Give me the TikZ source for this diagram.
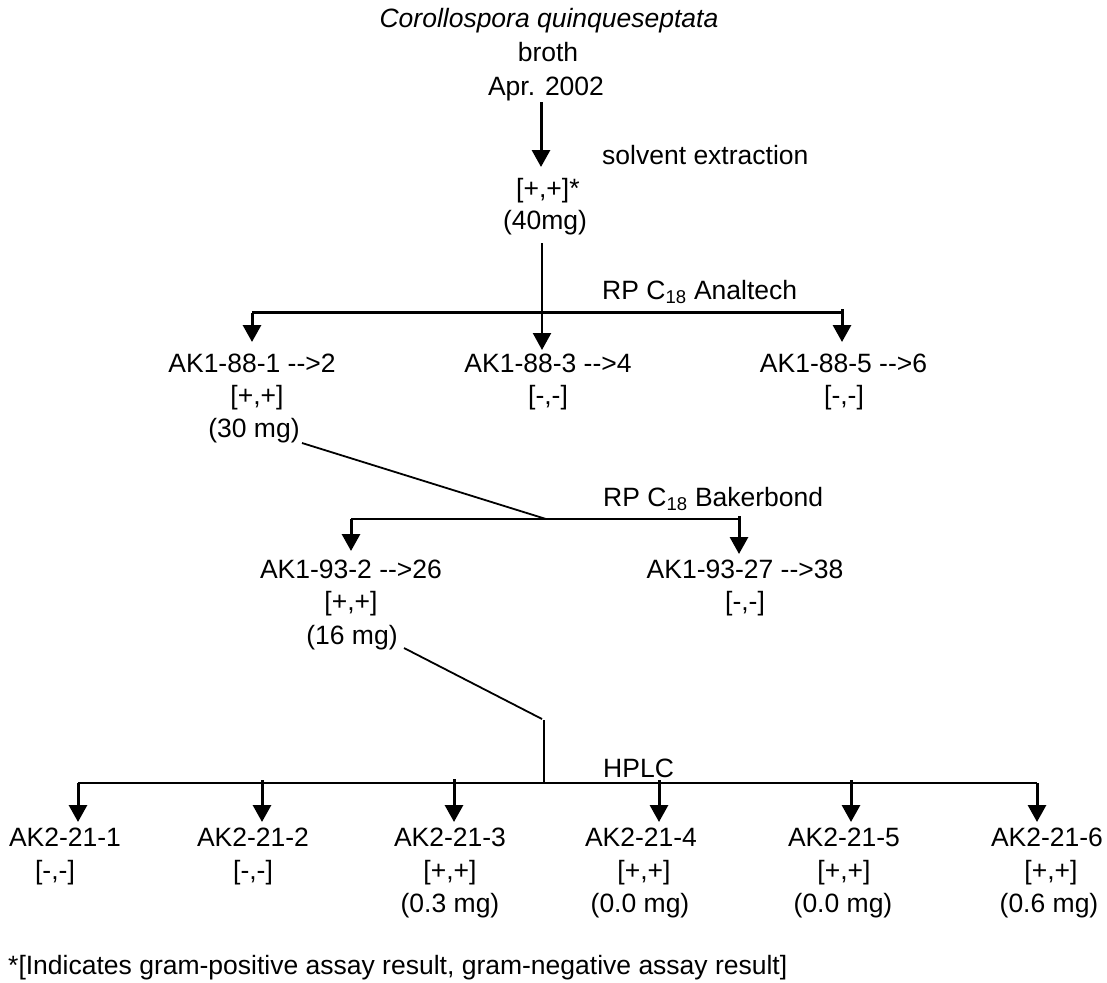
\documentclass[tikz,border=0pt]{standalone}
\usepackage{fontspec}
\setmainfont{Liberation Sans}
\usetikzlibrary{arrows.meta}
\begin{document}
\begin{tikzpicture}[x=1pt,y=-1pt,
  txt/.style={font=\fontsize{26.5}{33}\selectfont, inner sep=0pt, anchor=base},
  txtl/.style={txt, anchor=base west},
  ln/.style={line width=2.2pt},
  arr/.style={line width=3pt, -{Triangle[length=17pt,width=18pt]}},
  arrthin/.style={line width=2.3pt, -{Triangle[length=17pt,width=18pt]}},
  diag/.style={line width=1.8pt}]
\useasboundingbox (0,0) rectangle (1107,982);

% ---- top ----
\node[txt] (sp) at (549,28) {\itshape Corollospora quinqueseptata};
\node[txt] (broth) at (548,62) {broth};
\node[txt] (apr) at (546,95) {Apr. 2002};
\node[txtl] (solv) at (602,164) {solvent extraction};
\node[txtl] (ext) at (516,197) {[+,+]*};
\node[txt] (extmg) at (545,229) {(40mg)};

\coordinate (t0) at (541,102);
\coordinate (t1) at (541,167);
\draw[arr] (t0) -- (t1);

% ---- Analtech ----
\node[txtl] (rp1) at (602,299) {RP C\textsubscript{18} Analtech};
\coordinate (c0) at (542,243);
\coordinate (c1) at (542,350);
\coordinate (h1l) at (252,312.5);
\coordinate (h1r) at (842,312.5);
\coordinate (h1rt) at (842,309);
\coordinate (a1tip) at (252,342);
\coordinate (a3tip) at (842,342);
\draw[ln] (h1l) -- (h1r);
\draw[arrthin] (c0) -- (c1);
\draw[arr] (h1l) -- (a1tip);
\draw[arr] (h1rt) -- (a3tip);

\node[txt] (a1) at (252,372) {AK1-88-1 -{}->2};
\node[txt] (a1s) at (257,404) {[+,+]};
\node[txt] (a1m) at (254,437) {(30 mg)};
\node[txt] (a2) at (548,372) {AK1-88-3 -{}->4};
\node[txt] (a2s) at (548,404) {[-,-]};
\node[txt] (a3) at (843.5,372) {AK1-88-5 -{}->6};
\node[txt] (a3s) at (844,404) {[-,-]};

% ---- Bakerbond ----
\node[txtl] (rp2) at (603,506) {RP C\textsubscript{18} Bakerbond};
\coordinate (d1s) at (302,443);
\coordinate (d1e) at (546,519);
\draw[diag] (d1s) -- (d1e);
\coordinate (h2l) at (351,519);
\coordinate (h2r) at (739,519);
\coordinate (h2rt) at (739,516);
\coordinate (b1tip) at (351,551);
\coordinate (b2tip) at (739,554);
\draw[ln] (h2l) -- (h2r);
\draw[arr] (h2l) -- (b1tip);
\draw[arr] (h2rt) -- (b2tip);

\node[txt] (b1) at (351,578) {AK1-93-2 -{}->26};
\node[txt] (b1s) at (351,610) {[+,+]};
\node[txt] (b1m) at (352,644) {(16 mg)};
\node[txt] (b2) at (745,578) {AK1-93-27 -{}->38};
\node[txt] (b2s) at (745,610) {[-,-]};

% ---- HPLC ----
\node[txtl] (hplc) at (603,777) {HPLC};
\coordinate (d2s) at (404,648);
\coordinate (d2e) at (542,719);
\coordinate (v2s) at (544,720);
\coordinate (v2e) at (544,783);
\draw[diag] (d2s) -- (d2e);
\draw[ln] (v2s) -- (v2e);
\coordinate (h3l) at (78,783);
\coordinate (h3r) at (1037,783);
\draw[ln] (h3l) -- (h3r);

\coordinate (p1) at (78,783);   \coordinate (q1) at (78,822);
\coordinate (p2) at (262,780);  \coordinate (q2) at (262,822);
\coordinate (p3) at (454,779);  \coordinate (q3) at (454,822);
\coordinate (p4) at (659,780);  \coordinate (q4) at (659,822);
\coordinate (p5) at (851,780);  \coordinate (q5) at (851,822);
\coordinate (p6) at (1037,783); \coordinate (q6) at (1037,822);
\draw[arr] (p1) -- (q1);
\draw[arr] (p2) -- (q2);
\draw[arr] (p3) -- (q3);
\draw[arr] (p4) -- (q4);
\draw[arr] (p5) -- (q5);
\draw[arr] (p6) -- (q6);

\node[txt] (f1) at (65,846) {AK2-21-1};
\node[txt] (f2) at (253,846) {AK2-21-2};
\node[txt] (f3) at (450,846) {AK2-21-3};
\node[txt] (f4) at (641,846) {AK2-21-4};
\node[txt] (f5) at (844,846) {AK2-21-5};
\node[txt] (f6) at (1047,846) {AK2-21-6};

\node[txt] (f1s) at (55,879) {[-,-]};
\node[txt] (f2s) at (253,879) {[-,-]};
\node[txt] (f3s) at (450,879) {[+,+]};
\node[txt] (f4s) at (644,879) {[+,+]};
\node[txt] (f5s) at (844,879) {[+,+]};
\node[txt] (f6s) at (1051,879) {[+,+]};

\node[txt] (f3m) at (450,912) {(0.3 mg)};
\node[txt] (f4m) at (640,912) {(0.0 mg)};
\node[txt] (f5m) at (843,912) {(0.0 mg)};
\node[txt] (f6m) at (1049,912) {(0.6 mg)};

% ---- footnote ----
\node[txtl] (note) at (8,974) {*[Indicates gram-positive assay result, gram-negative assay result]};
\end{tikzpicture}
\end{document}
